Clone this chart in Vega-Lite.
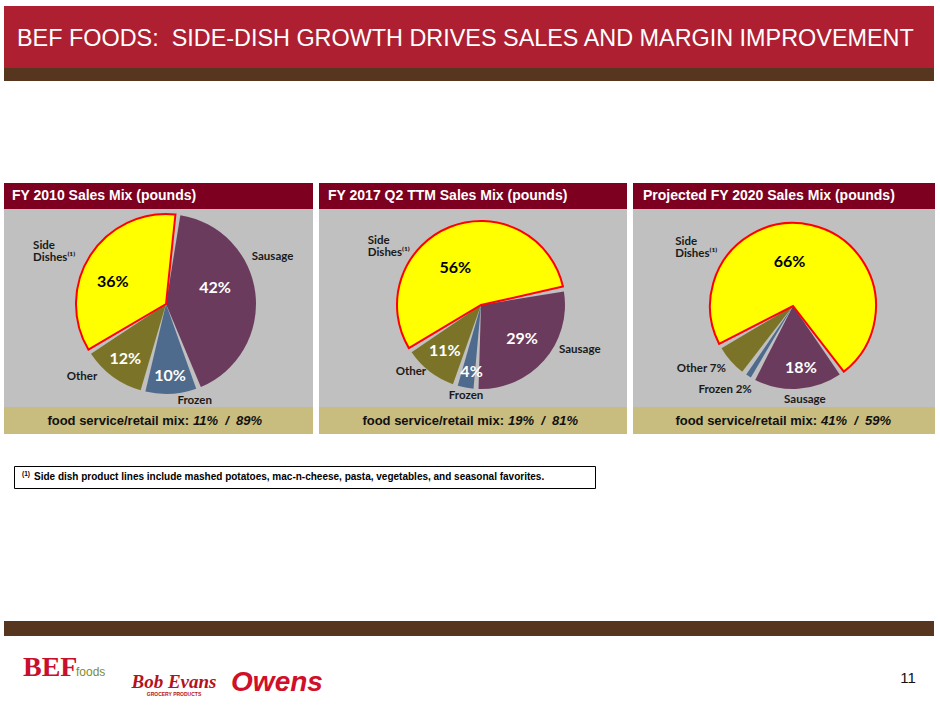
{
  "$schema": "https://vega.github.io/schema/vega-lite/v6.json",
  "background": "white",
  "padding": {"left": 4, "top": 6, "right": 0, "bottom": 0},
  "config": {"view": {"stroke": null}, "font": "Liberation Sans"},
  "datasets": {
    "p2010": [
      {"idx": 1, "cat": "Sausage", "share": 42, "pct": "42%", "label": "Sausage"},
      {"idx": 2, "cat": "Frozen", "share": 10, "pct": "10%", "label": "Frozen"},
      {"idx": 3, "cat": "Other", "share": 12, "pct": "12%", "label": "Other"},
      {"idx": 4, "cat": "Side Dishes", "share": 36, "pct": "36%", "label": "Side\nDishes⁽¹⁾"}
    ],
    "p2017": [
      {"idx": 1, "cat": "Sausage", "share": 29, "pct": "29%", "label": "Sausage"},
      {"idx": 2, "cat": "Frozen", "share": 4, "pct": "4%", "label": "Frozen"},
      {"idx": 3, "cat": "Other", "share": 11, "pct": "11%", "label": "Other"},
      {"idx": 4, "cat": "Side Dishes", "share": 56, "pct": "56%", "label": "Side\nDishes⁽¹⁾"}
    ],
    "p2020": [
      {"idx": 1, "cat": "Sausage", "share": 18, "pct": "18%", "label": "Sausage"},
      {"idx": 2, "cat": "Frozen", "share": 2, "pct": "", "label": "Frozen 2%"},
      {"idx": 3, "cat": "Other", "share": 7, "pct": "", "label": "Other 7%"},
      {"idx": 4, "cat": "Side Dishes", "share": 73, "pct": "66%", "label": "Side\nDishes⁽¹⁾"}
    ],
    "blank": [{}]
  },
  "spacing": 0,
  "vconcat": [
    {
      "width": 930, "height": 62,
      "view": {"fill": "#ad1f31", "stroke": null},
      "data": {"name": "blank"},
      "mark": {"type": "text", "align": "left", "baseline": "middle", "x": 13, "y": 33, "font": "Liberation Sans", "fontSize": 23.4, "color": "white"},
      "encoding": {"text": {"value": "BEF FOODS:\u00a0 SIDE-DISH GROWTH DRIVES SALES AND MARGIN IMPROVEMENT"}}
    },
    {
      "width": 930, "height": 13,
      "view": {"fill": "#573620", "stroke": null},
      "data": {"name": "blank"},
      "mark": {"type": "text"},
      "encoding": {"text": {"value": ""}}
    },
    {
      "width": 930, "height": 102,
      "data": {"name": "blank"},
      "mark": {"type": "text"},
      "encoding": {"text": {"value": ""}}
    },
    {
      "spacing": 6,
      "hconcat": [
        {
          "spacing": 0,
          "vconcat": [
            {
              "width": 309, "height": 26,
              "view": {"fill": "#7d0021", "stroke": null},
              "data": {"name": "blank"},
              "mark": {"type": "text", "align": "left", "baseline": "middle", "x": 8, "y": 13, "fontWeight": "bold", "fontSize": 14, "color": "white"},
              "encoding": {"text": {"value": "FY 2010 Sales Mix (pounds)"}}
            },
            {
              "width": 309, "height": 198,
              "view": {"fill": "#c0c0c0", "stroke": null},
              "data": {"name": "p2010"},
              "encoding": {
                "theta": {"field": "share", "type": "quantitative", "stack": true, "scale": {"domain": [0, 100], "range": [0.1326, 6.4158]}},
                "order": {"field": "idx", "type": "quantitative"}
              },
              "layer": [
                {
                  "mark": {"type": "arc", "clip": true, "x": 162, "y": 95, "radius": 90, "padAngle": 0.055, "stroke": "#ff0000"},
                  "encoding": {
                    "color": {"field": "cat", "type": "nominal", "legend": null, "scale": {"domain": ["Sausage", "Frozen", "Other", "Side Dishes"], "range": ["#6b3b5d", "#4e6a8c", "#7b7428", "#ffff00"]}},
                    "strokeWidth": {"condition": {"test": "datum.cat === 'Side Dishes'", "value": 2}, "value": 0}
                  }
                },
                {"mark": {"type": "text", "clip": true, "x": 162, "y": 95, "radius": 51.5, "dx": -2, "dy": -10, "font": "Lato", "fontWeight": "bold", "fontSize": 16, "color": "white", "baseline": "middle"},
                 "encoding": {"text": {"condition": {"test": "datum.cat === 'Sausage'", "field": "pct"}, "value": ""}}},
                {"mark": {"type": "text", "clip": true, "x": 162, "y": 95, "radius": 72, "dx": 0, "dy": 0, "font": "Lato", "fontWeight": "bold", "fontSize": 16, "color": "white", "baseline": "middle"},
                 "encoding": {"text": {"condition": {"test": "datum.cat === 'Frozen'", "field": "pct"}, "value": ""}}},
                {"mark": {"type": "text", "clip": true, "x": 162, "y": 95, "radius": 68.6, "dx": 0, "dy": 0, "font": "Lato", "fontWeight": "bold", "fontSize": 16, "color": "white", "baseline": "middle"},
                 "encoding": {"text": {"condition": {"test": "datum.cat === 'Other'", "field": "pct"}, "value": ""}}},
                {"mark": {"type": "text", "clip": true, "x": 162, "y": 95, "radius": 57.4, "dx": -5, "dy": 9, "font": "Lato", "fontWeight": "bold", "fontSize": 16, "color": "black", "baseline": "middle"},
                 "encoding": {"text": {"condition": {"test": "datum.cat === 'Side Dishes'", "field": "pct"}, "value": ""}}},
                {"mark": {"type": "text", "clip": true, "x": 162, "y": 95, "radius": 116.4, "dx": -9, "dy": -33, "font": "Lato", "fontWeight": "bold", "fontSize": 11.5, "color": "#1a1a1a", "baseline": "middle"},
                 "encoding": {"text": {"condition": {"test": "datum.cat === 'Sausage'", "field": "label"}, "value": ""}}},
                {"mark": {"type": "text", "clip": true, "x": 162, "y": 95, "radius": 101.2, "dx": 23, "dy": -4, "font": "Lato", "fontWeight": "bold", "fontSize": 11.5, "color": "#1a1a1a", "baseline": "middle"},
                 "encoding": {"text": {"condition": {"test": "datum.cat === 'Frozen'", "field": "label"}, "value": ""}}},
                {"mark": {"type": "text", "clip": true, "x": 162, "y": 95, "radius": 111.3, "dx": -18, "dy": -17, "font": "Lato", "fontWeight": "bold", "fontSize": 11.5, "color": "#1a1a1a", "baseline": "middle"},
                 "encoding": {"text": {"condition": {"test": "datum.cat === 'Other'", "field": "label"}, "value": ""}}},
                {"mark": {"type": "text", "clip": true, "x": 162, "y": 95, "radius": 145, "dx": -11, "dy": 21, "align": "left", "lineBreak": "\n", "lineHeight": 12, "font": "Lato", "fontWeight": "bold", "fontSize": 11.5, "color": "#1a1a1a", "baseline": "middle"},
                 "encoding": {"text": {"condition": {"test": "datum.cat === 'Side Dishes'", "field": "label"}, "value": ""}}}
              ]
            },
            {
              "width": 309, "height": 27,
              "view": {"fill": "#c8bc7e", "stroke": null},
              "data": {"name": "blank"},
              "layer": [
                {"mark": {"type": "text", "align": "right", "baseline": "middle", "x": 185, "y": 13.5, "fontWeight": "bold", "fontSize": 13, "color": "#111111"},
                 "encoding": {"text": {"value": "food service/retail mix:"}}},
                {"mark": {"type": "text", "align": "left", "baseline": "middle", "x": 189, "y": 13.5, "fontWeight": "bold", "fontStyle": "italic", "fontSize": 13, "color": "#111111"},
                 "encoding": {"text": {"value": "11%\u00a0\u00a0/\u00a0\u00a089%"}}}
              ]
            }
          ]
        },
        {
          "spacing": 0,
          "vconcat": [
            {
              "width": 308, "height": 26,
              "view": {"fill": "#7d0021", "stroke": null},
              "data": {"name": "blank"},
              "mark": {"type": "text", "align": "left", "baseline": "middle", "x": 9, "y": 13, "fontWeight": "bold", "fontSize": 14, "color": "white"},
              "encoding": {"text": {"value": "FY 2017 Q2 TTM Sales Mix (pounds)"}}
            },
            {
              "width": 308, "height": 198,
              "view": {"fill": "#c0c0c0", "stroke": null},
              "data": {"name": "p2017"},
              "encoding": {
                "theta": {"field": "share", "type": "quantitative", "stack": true, "scale": {"domain": [0, 100], "range": [1.3788, 7.662]}},
                "order": {"field": "idx", "type": "quantitative"}
              },
              "layer": [
                {
                  "mark": {"type": "arc", "clip": true, "x": 162, "y": 96, "radius": 84, "padAngle": 0.06, "stroke": "#ff0000"},
                  "encoding": {
                    "color": {"field": "cat", "type": "nominal", "legend": null, "scale": {"domain": ["Sausage", "Frozen", "Other", "Side Dishes"], "range": ["#6b3b5d", "#4e6a8c", "#7b7428", "#ffff00"]}},
                    "strokeWidth": {"condition": {"test": "datum.cat === 'Side Dishes'", "value": 2}, "value": 0}
                  }
                },
                {"mark": {"type": "text", "clip": true, "x": 162, "y": 96, "radius": 53.3, "dx": 1, "dy": -1, "font": "Lato", "fontWeight": "bold", "fontSize": 16, "color": "white", "baseline": "middle"},
                 "encoding": {"text": {"condition": {"test": "datum.cat === 'Sausage'", "field": "pct"}, "value": ""}}},
                {"mark": {"type": "text", "clip": true, "x": 162, "y": 96, "radius": 67.6, "dx": 3, "dy": 1, "font": "Lato", "fontWeight": "bold", "fontSize": 16, "color": "white", "baseline": "middle"},
                 "encoding": {"text": {"condition": {"test": "datum.cat === 'Frozen'", "field": "pct"}, "value": ""}}},
                {"mark": {"type": "text", "clip": true, "x": 162, "y": 96, "radius": 57.6, "dx": -1, "dy": 0, "font": "Lato", "fontWeight": "bold", "fontSize": 16, "color": "white", "baseline": "middle"},
                 "encoding": {"text": {"condition": {"test": "datum.cat === 'Other'", "field": "pct"}, "value": ""}}},
                {"mark": {"type": "text", "clip": true, "x": 162, "y": 96, "radius": 45.2, "dx": -9, "dy": 5, "font": "Lato", "fontWeight": "bold", "fontSize": 16, "color": "black", "baseline": "middle"},
                 "encoding": {"text": {"condition": {"test": "datum.cat === 'Side Dishes'", "field": "pct"}, "value": ""}}},
                {"mark": {"type": "text", "clip": true, "x": 162, "y": 96, "radius": 108.7, "dx": 17, "dy": -27, "font": "Lato", "fontWeight": "bold", "fontSize": 11.5, "color": "#1a1a1a", "baseline": "middle"},
                 "encoding": {"text": {"condition": {"test": "datum.cat === 'Sausage'", "field": "label"}, "value": ""}}},
                {"mark": {"type": "text", "clip": true, "x": 162, "y": 96, "radius": 92.2, "dx": 2, "dy": 0, "font": "Lato", "fontWeight": "bold", "fontSize": 11.5, "color": "#1a1a1a", "baseline": "middle"},
                 "encoding": {"text": {"condition": {"test": "datum.cat === 'Frozen'", "field": "label"}, "value": ""}}},
                {"mark": {"type": "text", "clip": true, "x": 162, "y": 96, "radius": 96.9, "dx": -11, "dy": -10, "font": "Lato", "fontWeight": "bold", "fontSize": 11.5, "color": "#1a1a1a", "baseline": "middle"},
                 "encoding": {"text": {"condition": {"test": "datum.cat === 'Other'", "field": "label"}, "value": ""}}},
                {"mark": {"type": "text", "clip": true, "x": 162, "y": 96, "radius": 129.9, "dx": -65, "dy": 57, "align": "left", "lineBreak": "\n", "lineHeight": 12, "font": "Lato", "fontWeight": "bold", "fontSize": 11.5, "color": "#1a1a1a", "baseline": "middle"},
                 "encoding": {"text": {"condition": {"test": "datum.cat === 'Side Dishes'", "field": "label"}, "value": ""}}}
              ]
            },
            {
              "width": 308, "height": 27,
              "view": {"fill": "#c8bc7e", "stroke": null},
              "data": {"name": "blank"},
              "layer": [
                {"mark": {"type": "text", "align": "right", "baseline": "middle", "x": 185, "y": 13.5, "fontWeight": "bold", "fontSize": 13, "color": "#111111"},
                 "encoding": {"text": {"value": "food service/retail mix:"}}},
                {"mark": {"type": "text", "align": "left", "baseline": "middle", "x": 189, "y": 13.5, "fontWeight": "bold", "fontStyle": "italic", "fontSize": 13, "color": "#111111"},
                 "encoding": {"text": {"value": "19%\u00a0\u00a0/\u00a0\u00a081%"}}}
              ]
            }
          ]
        },
        {
          "spacing": 0,
          "vconcat": [
            {
              "width": 302, "height": 26,
              "view": {"fill": "#7d0021", "stroke": null},
              "data": {"name": "blank"},
              "mark": {"type": "text", "align": "left", "baseline": "middle", "x": 10, "y": 13, "fontWeight": "bold", "fontSize": 14, "color": "white"},
              "encoding": {"text": {"value": "Projected FY 2020 Sales Mix (pounds)"}}
            },
            {
              "width": 302, "height": 198,
              "view": {"fill": "#c0c0c0", "stroke": null},
              "data": {"name": "p2020"},
              "encoding": {
                "theta": {"field": "share", "type": "quantitative", "stack": true, "scale": {"domain": [0, 100], "range": [2.5133, 8.7965]}},
                "order": {"field": "idx", "type": "quantitative"}
              },
              "layer": [
                {
                  "mark": {"type": "arc", "clip": true, "x": 160, "y": 97, "radius": 83, "padAngle": 0.06, "stroke": "#ff0000"},
                  "encoding": {
                    "color": {"field": "cat", "type": "nominal", "legend": null, "scale": {"domain": ["Sausage", "Frozen", "Other", "Side Dishes"], "range": ["#6b3b5d", "#4e6a8c", "#7b7428", "#ffff00"]}},
                    "strokeWidth": {"condition": {"test": "datum.cat === 'Side Dishes'", "value": 2}, "value": 0}
                  }
                },
                {"mark": {"type": "text", "clip": true, "x": 160, "y": 97, "radius": 62.5, "dx": 4, "dy": 0, "font": "Lato", "fontWeight": "bold", "fontSize": 16, "color": "white", "baseline": "middle"},
                 "encoding": {"text": {"condition": {"test": "datum.cat === 'Sausage'", "field": "pct"}, "value": ""}}},
                {"mark": {"type": "text", "clip": true, "x": 160, "y": 97, "radius": 44.1, "dx": -13, "dy": -1, "font": "Lato", "fontWeight": "bold", "fontSize": 16, "color": "black", "baseline": "middle"},
                 "encoding": {"text": {"condition": {"test": "datum.cat === 'Side Dishes'", "field": "pct"}, "value": ""}}},
                {"mark": {"type": "text", "clip": true, "x": 160, "y": 97, "radius": 93.8, "dx": 6, "dy": 0, "font": "Lato", "fontWeight": "bold", "fontSize": 11.5, "color": "#1a1a1a", "baseline": "middle"},
                 "encoding": {"text": {"condition": {"test": "datum.cat === 'Sausage'", "field": "label"}, "value": ""}}},
                {"mark": {"type": "text", "clip": true, "x": 160, "y": 97, "radius": 108.1, "dx": -10, "dy": -7, "font": "Lato", "fontWeight": "bold", "fontSize": 11.5, "color": "#1a1a1a", "baseline": "middle"},
                 "encoding": {"text": {"condition": {"test": "datum.cat === 'Frozen'", "field": "label"}, "value": ""}}},
                {"mark": {"type": "text", "clip": true, "x": 160, "y": 97, "radius": 111.5, "dx": -8, "dy": -11, "font": "Lato", "fontWeight": "bold", "fontSize": 11.5, "color": "#1a1a1a", "baseline": "middle"},
                 "encoding": {"text": {"condition": {"test": "datum.cat === 'Other'", "field": "label"}, "value": ""}}},
                {"mark": {"type": "text", "clip": true, "x": 160, "y": 97, "radius": 134, "dx": -147, "dy": 67, "align": "left", "lineBreak": "\n", "lineHeight": 12, "font": "Lato", "fontWeight": "bold", "fontSize": 11.5, "color": "#1a1a1a", "baseline": "middle"},
                 "encoding": {"text": {"condition": {"test": "datum.cat === 'Side Dishes'", "field": "label"}, "value": ""}}}
              ]
            },
            {
              "width": 302, "height": 27,
              "view": {"fill": "#c8bc7e", "stroke": null},
              "data": {"name": "blank"},
              "layer": [
                {"mark": {"type": "text", "align": "right", "baseline": "middle", "x": 184, "y": 13.5, "fontWeight": "bold", "fontSize": 13, "color": "#111111"},
                 "encoding": {"text": {"value": "food service/retail mix:"}}},
                {"mark": {"type": "text", "align": "left", "baseline": "middle", "x": 188, "y": 13.5, "fontWeight": "bold", "fontStyle": "italic", "fontSize": 13, "color": "#111111"},
                 "encoding": {"text": {"value": "41%\u00a0\u00a0/\u00a0\u00a059%"}}}
              ]
            }
          ]
        }
      ]
    },
    {
      "width": 930, "height": 31,
      "data": {"name": "blank"},
      "mark": {"type": "text"},
      "encoding": {"text": {"value": ""}}
    },
    {
      "spacing": 0,
      "hconcat": [
        {
          "width": 9, "height": 22,
          "data": {"name": "blank"},
          "mark": {"type": "text"},
          "encoding": {"text": {"value": ""}}
        },
        {
          "width": 581, "height": 22,
          "view": {"fill": "white", "stroke": "#000000", "strokeWidth": 1},
          "data": {"name": "blank"},
          "layer": [
            {"mark": {"type": "text", "align": "left", "baseline": "middle", "x": 8, "y": 8, "fontWeight": "bold", "fontSize": 6.5, "color": "#000000"},
             "encoding": {"text": {"value": "(1)"}}},
            {"mark": {"type": "text", "align": "left", "baseline": "middle", "x": 20, "y": 11, "fontWeight": "bold", "fontSize": 10, "color": "#000000"},
             "encoding": {"text": {"value": "Side dish product lines include mashed potatoes, mac-n-cheese, pasta, vegetables, and seasonal favorites."}}}
          ]
        }
      ]
    },
    {
      "width": 930, "height": 132,
      "data": {"name": "blank"},
      "mark": {"type": "text"},
      "encoding": {"text": {"value": ""}}
    },
    {
      "width": 930, "height": 15,
      "view": {"fill": "#573620", "stroke": null},
      "data": {"name": "blank"},
      "mark": {"type": "text"},
      "encoding": {"text": {"value": ""}}
    },
    {
      "width": 930, "height": 71,
      "data": {"name": "blank"},
      "layer": [
        {"mark": {"type": "text", "align": "left", "baseline": "alphabetic", "x": 19, "y": 40, "font": "Liberation Serif", "fontWeight": "bold", "fontSize": 28, "color": "#c8102e"},
         "encoding": {"text": {"value": "BEF"}}},
        {"mark": {"type": "text", "align": "left", "baseline": "alphabetic", "x": 72, "y": 40, "font": "Liberation Sans", "fontSize": 12, "color": "#7d8c2e"},
         "encoding": {"text": {"value": "foods"}}},
        {"mark": {"type": "text", "align": "center", "baseline": "alphabetic", "x": 170, "y": 52, "font": "Liberation Serif", "fontWeight": "bold", "fontStyle": "italic", "fontSize": 19, "color": "#b5121b"},
         "encoding": {"text": {"value": "Bob Evans"}}},
        {"mark": {"type": "text", "align": "center", "baseline": "alphabetic", "x": 170, "y": 60, "fontWeight": "bold", "fontSize": 5, "color": "#b5121b"},
         "encoding": {"text": {"value": "GROCERY PRODUCTS"}}},
        {"mark": {"type": "text", "align": "center", "baseline": "alphabetic", "x": 273, "y": 55, "fontWeight": "bold", "fontStyle": "italic", "fontSize": 28, "color": "#d0102a"},
         "encoding": {"text": {"value": "Owens"}}},
        {"mark": {"type": "text", "align": "center", "baseline": "middle", "x": 904, "y": 42, "fontSize": 15, "color": "#111111"},
         "encoding": {"text": {"value": "11"}}}
      ]
    }
  ]
}
